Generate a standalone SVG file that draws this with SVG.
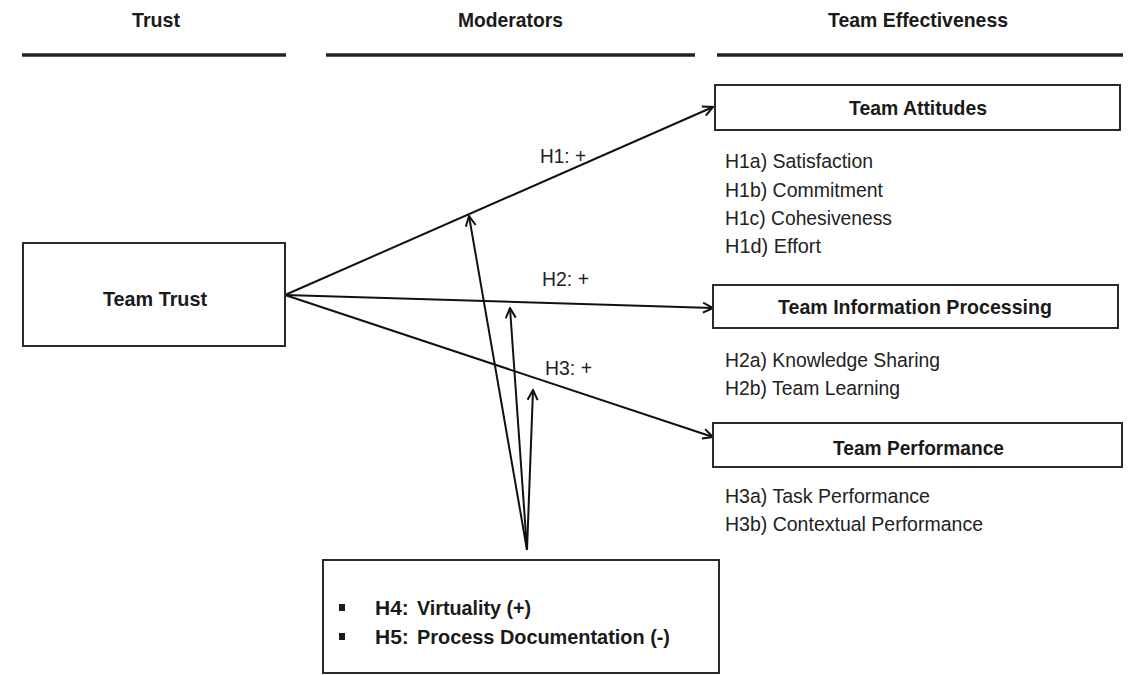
<svg xmlns="http://www.w3.org/2000/svg" width="1130" height="675" viewBox="0 0 1130 675">
<style>
.hd{font-family:"Liberation Sans",Arial,sans-serif;font-weight:bold;font-size:21px;fill:#1a1a1a}
.bx{fill:#fff;stroke:#2a2a2a;stroke-width:2}
.bt{font-family:"Liberation Sans",Arial,sans-serif;font-weight:bold;font-size:21px;fill:#1a1a1a}
.it{font-family:"Liberation Sans",Arial,sans-serif;font-size:20.5px;fill:#222}
.rule{stroke:#222;stroke-width:3.5}
.con{stroke:#111;stroke-width:2;fill:none;marker-end:url(#ah)}
</style>
<defs>
<marker id="ah" viewBox="0 0 12 12" refX="11" refY="6" markerWidth="12" markerHeight="12" markerUnits="userSpaceOnUse" orient="auto">
<path d="M1,1 L11,6 L1,11" fill="none" stroke="#111" stroke-width="2"/>
</marker>
</defs>
<rect width="1130" height="675" fill="#fff"/>
<g id="headers">
<text class="hd" x="132" y="27" textLength="48" lengthAdjust="spacingAndGlyphs">Trust</text>
<text class="hd" x="458" y="27" textLength="105" lengthAdjust="spacingAndGlyphs">Moderators</text>
<text class="hd" x="828" y="27" textLength="180" lengthAdjust="spacingAndGlyphs">Team Effectiveness</text>
<line class="rule" x1="22" y1="55" x2="286" y2="55"/>
<line class="rule" x1="326" y1="55" x2="695" y2="55"/>
<line class="rule" x1="717" y1="55" x2="1123" y2="55"/>
</g>
<g id="connectors">
<line class="con" x1="285" y1="295" x2="713" y2="107"/>
<line class="con" x1="285" y1="295" x2="713" y2="308"/>
<line class="con" x1="285" y1="295" x2="713" y2="437"/>
<line class="con" x1="527" y1="550" x2="469" y2="216"/>
<line class="con" x1="527" y1="550" x2="510" y2="308"/>
<line class="con" x1="527" y1="550" x2="533" y2="390"/>
<text class="it" x="540" y="163" textLength="46" lengthAdjust="spacingAndGlyphs">H1: +</text>
<text class="it" x="542" y="286" textLength="47" lengthAdjust="spacingAndGlyphs">H2: +</text>
<text class="it" x="545" y="375" textLength="47" lengthAdjust="spacingAndGlyphs">H3: +</text>
</g>
<g id="team-trust">
<rect class="bx" x="23" y="243" width="262" height="103"/>
<text class="bt" x="103" y="306" textLength="104" lengthAdjust="spacingAndGlyphs">Team Trust</text>
</g>
<g id="team-attitudes">
<rect class="bx" x="715" y="85" width="405" height="45"/>
<text class="bt" x="849" y="115" textLength="138" lengthAdjust="spacingAndGlyphs">Team Attitudes</text>
<text class="it" x="725" y="168" textLength="148" lengthAdjust="spacingAndGlyphs">H1a) Satisfaction</text>
<text class="it" x="725" y="197" textLength="158" lengthAdjust="spacingAndGlyphs">H1b) Commitment</text>
<text class="it" x="725" y="225" textLength="167" lengthAdjust="spacingAndGlyphs">H1c) Cohesiveness</text>
<text class="it" x="725" y="253" textLength="96" lengthAdjust="spacingAndGlyphs">H1d) Effort</text>
</g>
<g id="team-info">
<rect class="bx" x="713" y="285" width="405" height="43"/>
<text class="bt" x="778" y="314" textLength="274" lengthAdjust="spacingAndGlyphs">Team Information Processing</text>
<text class="it" x="725" y="367" textLength="215" lengthAdjust="spacingAndGlyphs">H2a) Knowledge Sharing</text>
<text class="it" x="725" y="395" textLength="175" lengthAdjust="spacingAndGlyphs">H2b) Team Learning</text>
</g>
<g id="team-performance">
<rect class="bx" x="713" y="423" width="409" height="44"/>
<text class="bt" x="833" y="455" textLength="171" lengthAdjust="spacingAndGlyphs">Team Performance</text>
<text class="it" x="725" y="503" textLength="205" lengthAdjust="spacingAndGlyphs">H3a) Task Performance</text>
<text class="it" x="725" y="531" textLength="258" lengthAdjust="spacingAndGlyphs">H3b) Contextual Performance</text>
</g>
<g id="moderators">
<rect class="bx" x="323" y="560" width="396" height="113"/>
<rect x="339" y="604" width="6" height="7" fill="#1a1a1a"/>
<rect x="339" y="633" width="6" height="7" fill="#1a1a1a"/>
<text class="bt" x="375" y="615">H4:</text>
<text class="bt" x="417" y="615" textLength="114" lengthAdjust="spacingAndGlyphs">Virtuality (+)</text>
<text class="bt" x="375" y="644">H5:</text>
<text class="bt" x="417" y="644" textLength="253" lengthAdjust="spacingAndGlyphs">Process Documentation (-)</text>
</g>
</svg>
